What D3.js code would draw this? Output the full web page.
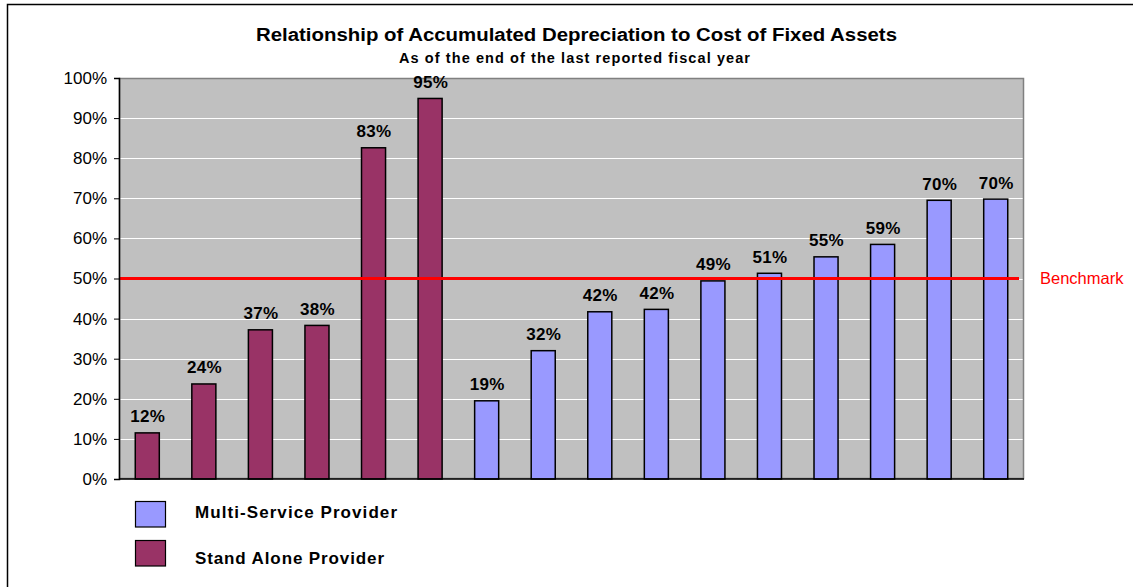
<!DOCTYPE html>
<html>
<head>
<meta charset="utf-8">
<script src="https://cdn.jsdelivr.net/npm/d3@7"></script>
<style>
  body { margin: 0; background: #fff; }
  text { font-family: Arial, "Liberation Sans", sans-serif; }
</style>
</head>
<body>
<svg id="graph" width="1133" height="587"></svg>
<script>
// datos
var providers = ["SA1", "SA2", "SA3", "SA4", "SA5", "SA6",
    "MS1", "MS2", "MS3", "MS4", "MS5", "MS6", "MS7", "MS8", "MS9", "MS10"];
var ratios = [11.5, 23.7, 37.2, 38.3, 82.6, 94.9,
    19.5, 32.0, 41.7, 42.3, 49.4, 51.3, 55.4, 58.5, 69.5, 69.8];
var labels = ["12%", "24%", "37%", "38%", "83%", "95%",
    "19%", "32%", "42%", "42%", "49%", "51%", "55%", "59%", "70%", "70%"];
var types = ["Stand Alone Provider", "Stand Alone Provider", "Stand Alone Provider",
    "Stand Alone Provider", "Stand Alone Provider", "Stand Alone Provider",
    "Multi-Service Provider", "Multi-Service Provider", "Multi-Service Provider",
    "Multi-Service Provider", "Multi-Service Provider", "Multi-Service Provider",
    "Multi-Service Provider", "Multi-Service Provider", "Multi-Service Provider",
    "Multi-Service Provider"];
var legendNames = ["Multi-Service Provider", "Stand Alone Provider"];
var yTicks = [0, 10, 20, 30, 40, 50, 60, 70, 80, 90, 100];
var benchmark = 50;

var data = providers.map((p, i) => ({ name: p, value: ratios[i], label: labels[i], type: types[i] }));

var svg = d3.select("#graph");
var margin = { top: 78, left: 119, right: 109, bottom: 108 };
var width = +svg.attr("width") - margin.left - margin.right;
var height = +svg.attr("height") - margin.top - margin.bottom;

var color = d3.scaleOrdinal().domain(legendNames).range(["#9999FF", "#993366"]);

// marco exterior
svg.append("rect")
    .attr("x", 7.5).attr("y", 4.5)
    .attr("width", 1200).attr("height", 700)
    .attr("fill", "none").attr("stroke", "#000").attr("stroke-width", 1.5);

// titulos
svg.append("text")
    .attr("x", 576.5).attr("y", 41)
    .attr("text-anchor", "middle")
    .attr("font-size", "18px").attr("font-weight", "bold")
    .attr("textLength", 641).attr("lengthAdjust", "spacingAndGlyphs")
    .text("Relationship of Accumulated Depreciation to Cost of Fixed Assets");
svg.append("text")
    .attr("x", 574.5).attr("y", 62.5)
    .attr("text-anchor", "middle")
    .attr("font-size", "14.5px").attr("font-weight", "bold")
    .attr("textLength", 351).attr("lengthAdjust", "spacing")
    .text("As of the end of the last reported fiscal year");

var g = svg.append("g").attr("transform", "translate(" + margin.left + "," + margin.top + ")");

var x = d3.scaleBand()
    .domain(providers)
    .range([0, width])
    .paddingInner(0.575)
    .paddingOuter(0.2875);
var y = d3.scaleLinear()
    .domain([0, 100])
    .range([height, 0]);

// fondo gris
g.append("rect")
    .attr("width", width).attr("height", height)
    .attr("fill", "#C0C0C0");

// lineas de grilla
g.append("g")
    .selectAll("line")
    .data(yTicks.filter(d => d > 0 && d < 100))
    .enter().append("line")
    .attr("x1", 0).attr("x2", width)
    .attr("y1", d => Math.round(y(d)) + 0.5).attr("y2", d => Math.round(y(d)) + 0.5)
    .attr("stroke", "#ffffff").attr("stroke-width", 1);

// borde del area
g.append("rect")
    .attr("x", 0.5).attr("y", 0.5)
    .attr("width", width - 1).attr("height", height - 1)
    .attr("fill", "none").attr("stroke", "#808080").attr("stroke-width", 1.5);

// barras
g.append("g")
    .selectAll(".bar")
    .data(data)
    .enter().append("rect")
    .attr("class", "bar")
    .attr("x", d => x(d.name))
    .attr("y", d => y(d.value))
    .attr("width", x.bandwidth())
    .attr("height", d => height - y(d.value))
    .attr("fill", d => color(d.type))
    .attr("stroke", "#000").attr("stroke-width", 1.5);

// etiquetas de valor
g.append("g")
    .selectAll(".lbl")
    .data(data)
    .enter().append("text")
    .attr("class", "lbl")
    .attr("x", d => x(d.name) + x.bandwidth() / 2 + 0.5)
    .attr("y", d => y(d.value) - 10.5)
    .attr("text-anchor", "middle")
    .attr("font-size", "17px").attr("font-weight", "bold")
    .attr("letter-spacing", "0.3px")
    .text(d => d.label);

// linea de referencia
g.append("line")
    .attr("x1", 0).attr("x2", width - 5)
    .attr("y1", y(benchmark)).attr("y2", y(benchmark))
    .attr("stroke", "#FF0000").attr("stroke-width", 3);
g.append("text")
    .attr("x", width + 16).attr("y", y(benchmark) + 5.5)
    .attr("fill", "#FF0000")
    .attr("font-size", "16.5px")
    .text("Benchmark");

// eje y
var yAxis = g.append("g")
    .attr("class", "yaxis")
    .call(d3.axisLeft(y).tickValues(yTicks).tickSize(5).tickPadding(7).tickFormat(d => d + "%"));
yAxis.selectAll("text").attr("font-size", "17px").attr("fill", "#000")
    .style("font-family", "Arial, 'Liberation Sans', sans-serif");
yAxis.selectAll("line").attr("stroke", "#000");
yAxis.select(".domain").attr("stroke", "#000").attr("stroke-width", 1.5);

// eje x (linea base)
g.append("line")
    .attr("x1", 0).attr("x2", width)
    .attr("y1", height).attr("y2", height)
    .attr("stroke", "#000").attr("stroke-width", 1.5);

// leyenda
var legend = svg.append("g")
    .selectAll(".leg")
    .data(legendNames)
    .enter().append("g")
    .attr("class", "leg")
    .attr("transform", (d, i) => "translate(135," + (501 + i * 39) + ")");
legend.append("rect")
    .attr("x", 0.5).attr("y", 0.5)
    .attr("width", 30).attr("height", 25.5)
    .attr("fill", d => color(d))
    .attr("stroke", "#000").attr("stroke-width", 1.2);
legend.append("text")
    .attr("x", 60).attr("y", (d, i) => i === 0 ? 17 : 24)
    .attr("font-size", "17px").attr("font-weight", "bold")
    .attr("textLength", (d, i) => i === 0 ? 202 : 189)
    .attr("lengthAdjust", "spacing")
    .text(d => d);
</script>
</body>
</html>
